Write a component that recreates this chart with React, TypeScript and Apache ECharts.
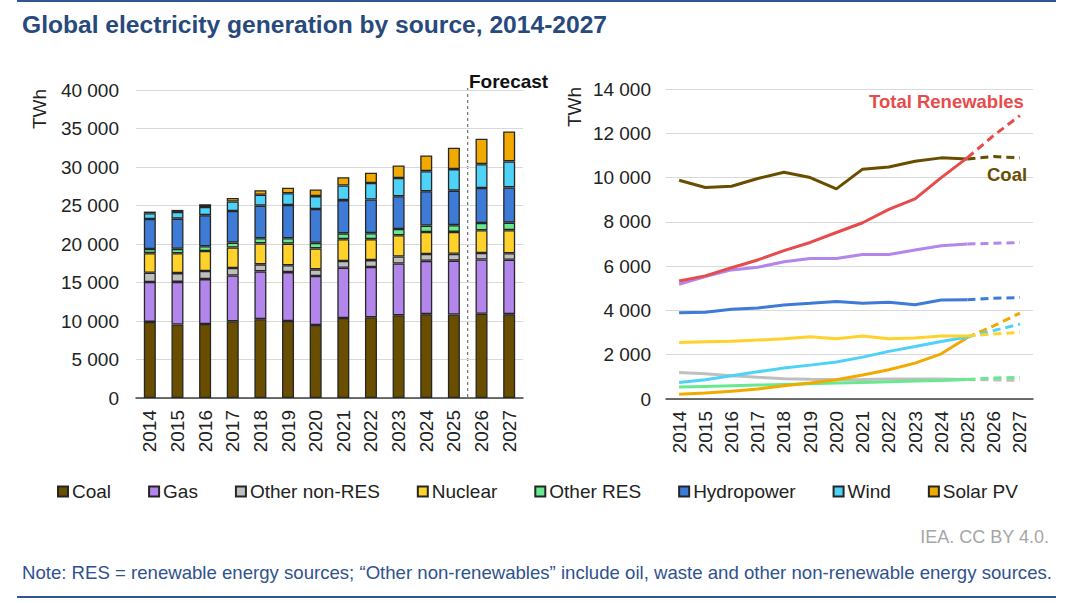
import React, { useEffect, useRef } from "react";
import * as echarts from "echarts";

// years on both x axes
const YEARS = [
  "2014", "2015", "2016", "2017", "2018", "2019", "2020",
  "2021", "2022", "2023", "2024", "2025", "2026", "2027",
];
// last year of actuals, the lines turn dashed after it
const LAST_ACTUAL = 11;

// TWh by source
const COAL = [9880, 9550, 9610, 9960, 10240, 10000, 9490, 10380, 10480, 10740, 10890, 10840, 10950, 10890];
const GAS = [5180, 5530, 5830, 5950, 6200, 6350, 6350, 6530, 6530, 6730, 6920, 7000, 7030, 7070];
const OTHER_NON_RES = [1200, 1140, 1050, 980, 920, 890, 870, 880, 900, 900, 900, 880, 860, 840];
const NUCLEAR = [2550, 2580, 2610, 2660, 2720, 2810, 2720, 2840, 2720, 2760, 2840, 2850, 2940, 3000];
const OTHER_RES = [540, 570, 600, 630, 660, 690, 720, 750, 780, 810, 840, 880, 950, 970];
const HYDRO = [3900, 3920, 4050, 4110, 4250, 4320, 4400, 4320, 4370, 4260, 4470, 4480, 4550, 4580];
const WIND = [750, 870, 1050, 1230, 1400, 1530, 1670, 1890, 2150, 2370, 2600, 2800, 3090, 3380];
const SOLAR = [210, 270, 350, 450, 600, 720, 870, 1080, 1320, 1620, 2040, 2780, 3300, 3880];
const TOTAL_RENEWABLES = [5330, 5560, 5930, 6280, 6700, 7070, 7520, 7960, 8560, 9040, 10000, 10900, 11900, 12800];

const LEFT_TICKS_MAX = 40000;
const LEFT_TICK_STEP = 5000;
const RIGHT_TICKS_MAX = 14000;
const RIGHT_TICK_STEP = 2000;

const FONT = "'Liberation Sans', Arial, sans-serif";

const SOURCES = [
  { name: "Coal", data: COAL, color: "#6a4e00" },
  { name: "Gas", data: GAS, color: "#b286ea" },
  { name: "Other non-RES", data: OTHER_NON_RES, color: "#bfbfbf" },
  { name: "Nuclear", data: NUCLEAR, color: "#ffd22b" },
  { name: "Other RES", data: OTHER_RES, color: "#66e98f" },
  { name: "Hydropower", data: HYDRO, color: "#3d7bd6" },
  { name: "Wind", data: WIND, color: "#4fd2f8" },
  { name: "Solar PV", data: SOLAR, color: "#f2a900" },
];

// draw order of the right-hand lines (last on top)
const LINE_ORDER = ["Other non-RES", "Other RES", "Solar PV", "Wind", "Nuclear", "Hydropower", "Gas", "Coal"];
const RENEW_COLOR = "#e84b4b";

const GRID_L = { left: 136, top: 90, width: 387, height: 308 };
const GRID_R = { left: 666, top: 89, width: 367, height: 310 };

const fmt = (v: number) => String(v).replace(/\B(?=(\d{3})+(?!\d))/g, " ");

const lineSeries = (name: string, data: number[], color: string) => [
  {
    name: name + " line",
    type: "line",
    xAxisIndex: 1,
    yAxisIndex: 1,
    data: data.map((v, i) => (i <= LAST_ACTUAL ? v : null)),
    showSymbol: false,
    symbol: "none",
    lineStyle: { color, width: 3 },
    itemStyle: { color },
  },
  {
    name: name + " forecast",
    type: "line",
    xAxisIndex: 1,
    yAxisIndex: 1,
    data: data.map((v, i) => (i >= LAST_ACTUAL ? v : null)),
    showSymbol: false,
    symbol: "none",
    lineStyle: { color, width: 3, type: [8, 5] },
    itemStyle: { color },
  },
];

const text = (
  x: number,
  y: number,
  str: string,
  size: number,
  fill: string,
  extra: any = {}
) => ({
  type: "text",
  x,
  y,
  rotation: extra.rotation || 0,
  z: 100,
  style: {
    text: str,
    fill,
    fontSize: size,
    fontWeight: extra.bold ? "bold" : "normal",
    fontFamily: FONT,
    align: extra.align || "left",
    verticalAlign: "middle",
  },
});

const App: React.FC = () => {
  const ref = useRef<HTMLDivElement>(null);

  useEffect(() => {
    if (!ref.current) return;
    document.body.style.margin = "0";
    const chart = echarts.init(ref.current, undefined, { renderer: "svg" });

    const forecastX = GRID_L.left + (GRID_L.width * (LAST_ACTUAL + 1)) / YEARS.length;

    const axisLabel = { fontSize: 19, color: "#222", fontFamily: FONT };

    chart.setOption({
      animation: false,
      backgroundColor: "#fff",
      textStyle: { fontFamily: FONT },
      grid: [
        { ...GRID_L, containLabel: false },
        { ...GRID_R, containLabel: false },
      ],
      xAxis: [0, 1].map((gi) => ({
        type: "category",
        gridIndex: gi,
        data: YEARS,
        axisTick: { show: false },
        axisLine: { lineStyle: { color: "#404040", width: 1.5 } },
        axisLabel: { ...axisLabel, rotate: 90, margin: 12, interval: 0 },
      })),
      yAxis: [
        {
          type: "value",
          gridIndex: 0,
          min: 0,
          max: LEFT_TICKS_MAX,
          interval: LEFT_TICK_STEP,
          axisLabel: { ...axisLabel, margin: 17, formatter: fmt },
          splitLine: { lineStyle: { color: "#d9d9d9", width: 1 } },
          axisLine: { show: false },
          axisTick: { show: false },
        },
        {
          type: "value",
          gridIndex: 1,
          min: 0,
          max: RIGHT_TICKS_MAX,
          interval: RIGHT_TICK_STEP,
          axisLabel: { ...axisLabel, margin: 15, formatter: fmt },
          splitLine: { lineStyle: { color: "#d9d9d9", width: 1 } },
          axisLine: { show: false },
          axisTick: { show: false },
        },
      ],
      legend: {
        data: SOURCES.map((s) => s.name),
        left: 57,
        top: 482,
        padding: 0,
        icon: "rect",
        itemWidth: 10,
        itemHeight: 10,
        itemGap: 37,
        textStyle: { fontSize: 19, color: "#222", fontFamily: FONT, padding: [0, 0, 0, -1] },
        selectedMode: false,
      },
      series: [
        ...SOURCES.map((s) => ({
          name: s.name,
          type: "bar",
          stack: "total",
          xAxisIndex: 0,
          yAxisIndex: 0,
          barWidth: 12,
          data: s.data,
          itemStyle: { color: s.color, borderColor: "#262626", borderWidth: 1.3 },
        })),
        ...LINE_ORDER.flatMap((n) => {
          const s = SOURCES.find((x) => x.name === n)!;
          return lineSeries(n, s.data, s.color);
        }),
        ...lineSeries("Total Renewables", TOTAL_RENEWABLES, RENEW_COLOR),
      ],
      graphic: [
        { type: "line", shape: { x1: 17, y1: 1, x2: 1056, y2: 1 }, style: { stroke: "#2f5597", lineWidth: 2 } },
        { type: "line", shape: { x1: 17, y1: 597, x2: 1056, y2: 597 }, style: { stroke: "#2f5597", lineWidth: 2 } },
        text(22, 24, "Global electricity generation by source, 2014-2027", 24.6, "#28497c", { bold: true }),
        text(39, 109, "TWh", 19, "#222", { rotation: Math.PI / 2, align: "center" }),
        text(574, 107, "TWh", 19, "#222", { rotation: Math.PI / 2, align: "center" }),
        {
          type: "line",
          shape: { x1: forecastX, y1: 88, x2: forecastX, y2: GRID_L.top + GRID_L.height },
          style: { stroke: "#555", lineWidth: 1, lineDash: [3, 3] },
        },
        text(469, 81, "Forecast", 19, "#111", { bold: true }),
        text(869, 101, "Total Renewables", 18.5, RENEW_COLOR, { bold: true }),
        text(987, 174, "Coal", 18.5, "#6a4e00", { bold: true }),
        text(1049, 537, "IEA. CC BY 4.0.", 18, "#a6a6a6", { align: "right" }),
        text(
          22,
          572,
          "Note: RES = renewable energy sources; \u201COther non-renewables\u201D include oil, waste and other non-renewable energy sources.",
          18.6,
          "#2f528f"
        ),
      ],
    });

    return () => chart.dispose();
  }, []);

  return (
    <div
      ref={ref}
      style={{ position: "fixed", left: 0, top: 0, width: 1080, height: 603, background: "#fff" }}
    />
  );
};

export default App;
